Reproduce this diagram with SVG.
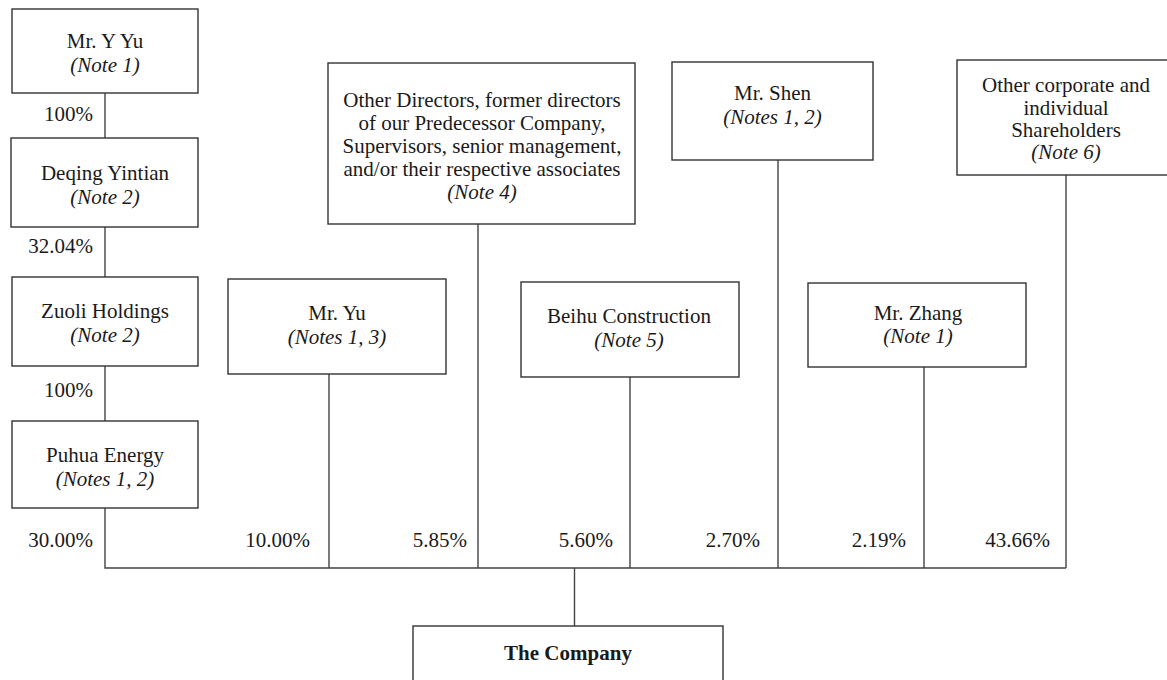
<svg xmlns="http://www.w3.org/2000/svg" width="1167" height="680" viewBox="0 0 1167 680">
<style>
.box{fill:#fff;stroke:#333;stroke-width:1.4}
.ln{fill:none;stroke:#444;stroke-width:1.4}
text{font-family:"Liberation Serif","Times New Roman",serif;font-size:21px;fill:#1a1a1a}
.c{text-anchor:middle}
.i{font-style:italic}
.r{text-anchor:end}
.b{font-weight:bold}
</style>
<rect width="1167" height="680" fill="#fff"/>
<g id="connectors">
<path class="ln" d="M105 93V138M105 227V277M105 366V421M105 508V568H1066M329 374V568M478 224V568M630 377V568M778 160V568M924 367V568M1066 175V568M574.5 568V626"/>
<text class="r" x="93" y="121">100%</text>
<text class="r" x="93" y="253">32.04%</text>
<text class="r" x="93" y="397">100%</text>
<text class="r" x="93" y="547">30.00%</text>
<text class="r" x="310" y="547">10.00%</text>
<text class="r" x="467" y="547">5.85%</text>
<text class="r" x="613" y="547">5.60%</text>
<text class="r" x="760" y="547">2.70%</text>
<text class="r" x="906" y="547">2.19%</text>
<text class="r" x="1050" y="547">43.66%</text>
</g>
<g id="mr-y-yu">
<rect class="box" x="12" y="9" width="186" height="84"/>
<text class="c" x="105" y="48">Mr. Y Yu</text>
<text class="c i" x="105" y="72">(Note 1)</text>
</g>
<g id="deqing-yintian">
<rect class="box" x="11" y="138" width="187" height="89"/>
<text class="c" x="105" y="180">Deqing Yintian</text>
<text class="c i" x="105" y="204">(Note 2)</text>
</g>
<g id="zuoli-holdings">
<rect class="box" x="12" y="277" width="186" height="89"/>
<text class="c" x="105" y="318">Zuoli Holdings</text>
<text class="c i" x="105" y="342">(Note 2)</text>
</g>
<g id="puhua-energy">
<rect class="box" x="12" y="421" width="186" height="87"/>
<text class="c" x="105" y="462">Puhua Energy</text>
<text class="c i" x="105" y="486">(Notes 1, 2)</text>
</g>
<g id="mr-yu">
<rect class="box" x="228" y="279" width="218" height="95"/>
<text class="c" x="337" y="320">Mr. Yu</text>
<text class="c i" x="337" y="344">(Notes 1, 3)</text>
</g>
<g id="other-directors">
<rect class="box" x="328" y="63" width="307" height="161"/>
<text class="c" x="482" y="107">Other Directors, former directors</text>
<text class="c" x="482" y="130">of our Predecessor Company,</text>
<text class="c" x="482" y="153">Supervisors, senior management,</text>
<text class="c" x="482" y="176">and/or their respective associates</text>
<text class="c i" x="482" y="199">(Note 4)</text>
</g>
<g id="beihu-construction">
<rect class="box" x="521" y="282" width="218" height="95"/>
<text class="c" x="629" y="323">Beihu Construction</text>
<text class="c i" x="629" y="347">(Note 5)</text>
</g>
<g id="mr-shen">
<rect class="box" x="672" y="62" width="201" height="98"/>
<text class="c" x="772.5" y="100">Mr. Shen</text>
<text class="c i" x="772.5" y="124">(Notes 1, 2)</text>
</g>
<g id="mr-zhang">
<rect class="box" x="808" y="283" width="218" height="84"/>
<text class="c" x="918" y="320">Mr. Zhang</text>
<text class="c i" x="918" y="343">(Note 1)</text>
</g>
<g id="other-shareholders">
<rect class="box" x="957" y="60" width="220" height="115"/>
<text class="c" x="1066" y="92">Other corporate and</text>
<text class="c" x="1066" y="115">individual</text>
<text class="c" x="1066" y="137">Shareholders</text>
<text class="c i" x="1066" y="159">(Note 6)</text>
</g>
<g id="the-company">
<rect class="box" x="413" y="626" width="310" height="80"/>
<text class="c b" x="568" y="660">The Company</text>
</g>
</svg>
